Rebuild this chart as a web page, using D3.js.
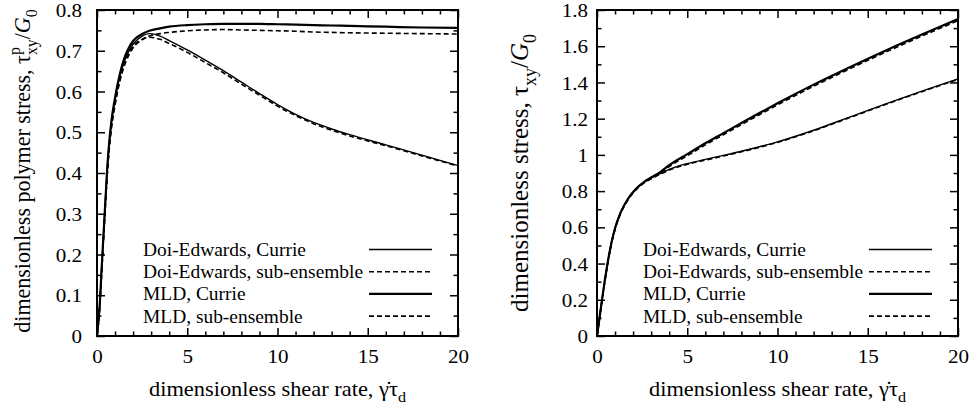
<!DOCTYPE html>
<html>
<head>
<meta charset="utf-8">
<script src="https://cdn.jsdelivr.net/npm/d3@7"></script>
<style>
  html, body { margin: 0; padding: 0; background: #fff; }
  svg { display: block; font-family: "Liberation Serif", "Times New Roman", serif; }
  svg text { font-family: "Liberation Serif", "Times New Roman", serif; }
</style>
</head>
<body>
<svg id="chart" width="971" height="409"></svg>
<script>
// ---- data: steady-shear polymer stress (left) and total stress (right) ----
const ratePolymer = [0, 0.15, 0.25, 0.35, 0.45, 0.55, 0.65, 0.8, 1.0, 1.25, 1.5, 1.75, 2, 2.5, 2.9, 3.5, 4, 5, 6, 7, 8, 9, 10, 11, 12, 13, 14, 16, 18, 20];
const polyDoiCurrie = [0, 0.075, 0.16, 0.24, 0.32, 0.40, 0.46, 0.525, 0.58, 0.635, 0.672, 0.698, 0.716, 0.736, 0.742, 0.736, 0.725, 0.702, 0.677, 0.651, 0.623, 0.595, 0.568, 0.544, 0.524, 0.508, 0.494, 0.469, 0.444, 0.418];
const polyDoiSub    = [0, 0.07, 0.15, 0.23, 0.31, 0.385, 0.445, 0.51, 0.567, 0.622, 0.661, 0.688, 0.707, 0.727, 0.733, 0.728, 0.718, 0.696, 0.671, 0.646, 0.618, 0.591, 0.564, 0.541, 0.521, 0.505, 0.491, 0.467, 0.442, 0.417];
const polyMldCurrie = [0, 0.075, 0.16, 0.24, 0.32, 0.40, 0.462, 0.528, 0.585, 0.64, 0.68, 0.706, 0.724, 0.741, 0.749, 0.755, 0.759, 0.763, 0.765, 0.766, 0.766, 0.766, 0.765, 0.764, 0.763, 0.762, 0.761, 0.759, 0.757, 0.756];
const polyMldSub    = [0, 0.07, 0.15, 0.23, 0.31, 0.385, 0.447, 0.513, 0.57, 0.627, 0.667, 0.693, 0.71, 0.728, 0.736, 0.742, 0.745, 0.749, 0.751, 0.752, 0.751, 0.75, 0.749, 0.748, 0.746, 0.745, 0.744, 0.743, 0.742, 0.741];

const rateTotal = [0, 0.2, 0.4, 0.6, 0.8, 1.0, 1.3, 1.7, 2.15, 2.6, 3.0, 3.5, 4, 5, 6, 7, 8, 9, 10, 12, 14, 16, 18, 20];
const totalDoiCurrie = [0, 0.145, 0.285, 0.41, 0.515, 0.595, 0.68, 0.755, 0.812, 0.85, 0.873, 0.897, 0.92, 0.952, 0.975, 0.997, 1.02, 1.045, 1.072, 1.136, 1.209, 1.282, 1.352, 1.42];
const totalDoiSub    = [0, 0.14, 0.28, 0.405, 0.51, 0.59, 0.675, 0.75, 0.807, 0.845, 0.868, 0.893, 0.916, 0.948, 0.971, 0.994, 1.017, 1.042, 1.069, 1.133, 1.206, 1.279, 1.349, 1.417];
const totalMldCurrie = [0, 0.145, 0.285, 0.41, 0.515, 0.595, 0.68, 0.755, 0.812, 0.85, 0.875, 0.905, 0.943, 1.004, 1.064, 1.12, 1.176, 1.231, 1.285, 1.388, 1.484, 1.577, 1.665, 1.75];
const totalMldSub    = [0, 0.14, 0.28, 0.405, 0.51, 0.59, 0.675, 0.75, 0.807, 0.845, 0.869, 0.898, 0.935, 0.995, 1.055, 1.111, 1.167, 1.222, 1.276, 1.379, 1.475, 1.568, 1.656, 1.741];

const seriesNames = ["Doi-Edwards, Currie", "Doi-Edwards, sub-ensemble", "MLD, Currie", "MLD, sub-ensemble"];

const xTicks = [0, 5, 10, 15, 20];
const xMinorTicks = [1, 2, 3, 4, 6, 7, 8, 9, 11, 12, 13, 14, 16, 17, 18, 19];
const yTicksPolymer = [0, 0.1, 0.2, 0.3, 0.4, 0.5, 0.6, 0.7, 0.8];
const yMinorPolymer = [0.05, 0.15, 0.25, 0.35, 0.45, 0.55, 0.65, 0.75];
const yTicksTotal = [0, 0.2, 0.4, 0.6, 0.8, 1, 1.2, 1.4, 1.6, 1.8];
const yMinorTotal = [0.1, 0.3, 0.5, 0.7, 0.9, 1.1, 1.3, 1.5, 1.7];

// ---- styling ----
const seriesStyle = [
  { dash: null,  width: 1.4 },
  { dash: "5,3", width: 1.6 },
  { dash: null,  width: 2.2 },
  { dash: "5,3", width: 1.6 }
];
const plotTop = 10, plotBottom = 336;
const tickFont = 19.5, tickSX = 1.08;
const legendFont = 18, legendSX = 1.08;
const xTitleFont = 20, xTitleSX = 1.12;
const serif = '"Liberation Serif", "Times New Roman", serif';

const svg = d3.select("#chart");

// text drawn with a horizontal stretch about its anchor point
function stretchedText(parent, x, y, sx, fontSize, anchor) {
  return parent.append("text")
    .attr("transform", `translate(${x},${y}) scale(${sx},1)`)
    .attr("font-size", fontSize)
    .attr("font-family", serif)
    .attr("text-anchor", anchor)
    .attr("fill", "#000");
}

// rich text: parts with optional sub/sup, italics and stacking offsets
function addParts(text, parts, fs) {
  let level = 0; // current baseline offset in px
  parts.forEach(p => {
    const target = p.sub ? 0.32 * fs : p.sup ? -0.42 * fs : 0;
    const ts = text.append("tspan").text(p.t);
    ts.attr("dy", target - level);
    level = target;
    if (p.sub || p.sup) ts.attr("font-size", 0.72 * fs);
    if (p.dx) ts.attr("dx", p.dx * fs);
    if (p.italic) ts.attr("font-style", "italic");
  });
}

const panels = [
  {
    left: 97, right: 458, yDomain: [0, 0.8], yTicks: yTicksPolymer, yMinor: yMinorPolymer,
    yLabelGap: 15, rate: ratePolymer,
    series: [polyDoiCurrie, polyDoiSub, polyMldCurrie, polyMldSub],
    yTitle: { x: 30, y: 171, fs: 22, sy: 1.05, parts: [
      { t: "dimensionless polymer stress, τ" },
      { t: "p", sup: true },
      { t: "xy", sub: true, dx: -0.36 },
      { t: "/" },
      { t: "G", italic: true },
      { t: "0", sub: true }
    ] }
  },
  {
    left: 597, right: 958, yDomain: [0, 1.8], yTicks: yTicksTotal, yMinor: yMinorTotal,
    yLabelGap: 9, rate: rateTotal,
    series: [totalDoiCurrie, totalDoiSub, totalMldCurrie, totalMldSub],
    yTitle: { x: 528, y: 173, fs: 25, sy: 1.0, parts: [
      { t: "dimensionless stress, τ" },
      { t: "xy", sub: true },
      { t: "/" },
      { t: "G", italic: true },
      { t: "0", sub: true }
    ] }
  }
];

panels.forEach(P => {
  const x = d3.scaleLinear().domain([0, 20]).range([P.left, P.right]);
  const y = d3.scaleLinear().domain(P.yDomain).range([plotBottom, plotTop]);
  const g = svg.append("g");

  // curves
  const line = d3.line()
    .x((d, i) => x(P.rate[i]))
    .y(d => y(d))
    .curve(d3.curveMonotoneX);
  P.series.forEach((s, k) => {
    g.append("path")
      .attr("d", line(s))
      .attr("fill", "none")
      .attr("stroke", "#000")
      .attr("stroke-width", seriesStyle[k].width)
      .attr("stroke-dasharray", seriesStyle[k].dash)
      .attr("stroke-linejoin", "round");
  });

  // inward ticks on all four sides
  const tickStyle = sel => {
    sel.attr("font-family", serif).attr("font-size", tickFont);
    sel.select(".domain").remove();
    sel.selectAll("line").attr("stroke", "#000").attr("stroke-width", 1.5);
  };
  const bottomMajor = g.append("g").attr("transform", `translate(0,${plotBottom})`)
    .call(d3.axisBottom(x).tickValues(xTicks).tickSize(-8).tickFormat(d3.format("d")));
  tickStyle(bottomMajor);
  bottomMajor.selectAll("text")
    .attr("y", 27).attr("dy", null).attr("fill", "#000")
    .attr("transform", `scale(${tickSX},1)`);
  g.append("g").attr("transform", `translate(0,${plotBottom})`)
    .call(d3.axisBottom(x).tickValues(xMinorTicks).tickSize(-4.5).tickFormat(""))
    .call(tickStyle);
  g.append("g").attr("transform", `translate(0,${plotTop})`)
    .call(d3.axisTop(x).tickValues(xTicks).tickSize(-8).tickFormat(""))
    .call(tickStyle);
  g.append("g").attr("transform", `translate(0,${plotTop})`)
    .call(d3.axisTop(x).tickValues(xMinorTicks).tickSize(-4.5).tickFormat(""))
    .call(tickStyle);

  const leftMajor = g.append("g").attr("transform", `translate(${P.left},0)`)
    .call(d3.axisLeft(y).tickValues(P.yTicks).tickSize(-8).tickFormat(d => String(d)));
  tickStyle(leftMajor);
  leftMajor.selectAll("text")
    .attr("x", -P.yLabelGap / tickSX).attr("dy", "0.34em").attr("fill", "#000")
    .attr("transform", `scale(${tickSX},1)`);
  g.append("g").attr("transform", `translate(${P.left},0)`)
    .call(d3.axisLeft(y).tickValues(P.yMinor).tickSize(-4.5).tickFormat(""))
    .call(tickStyle);
  g.append("g").attr("transform", `translate(${P.right},0)`)
    .call(d3.axisRight(y).tickValues(P.yTicks).tickSize(-8).tickFormat(""))
    .call(tickStyle);
  g.append("g").attr("transform", `translate(${P.right},0)`)
    .call(d3.axisRight(y).tickValues(P.yMinor).tickSize(-4.5).tickFormat(""))
    .call(tickStyle);

  // frame
  g.append("rect")
    .attr("x", P.left).attr("y", plotTop)
    .attr("width", P.right - P.left).attr("height", plotBottom - plotTop)
    .attr("fill", "none").attr("stroke", "#000").attr("stroke-width", 2);

  // legend
  const legTop = 249.5, legStep = 22.2;
  seriesNames.forEach((name, k) => {
    const ly = legTop + k * legStep;
    stretchedText(g, P.left + 46, ly + 6.5, legendSX, legendFont, "start").text(name);
    g.append("line")
      .attr("x1", P.left + 272).attr("x2", P.left + 335)
      .attr("y1", ly).attr("y2", ly)
      .attr("stroke", "#000")
      .attr("stroke-width", seriesStyle[k].width)
      .attr("stroke-dasharray", seriesStyle[k].dash);
  });

  // x-axis title
  const xt = stretchedText(g, (P.left + P.right) / 2, 396, xTitleSX, xTitleFont, "middle");
  addParts(xt, [
    { t: "dimensionless shear rate, γ\u0307τ" },
    { t: "d", sub: true }
  ], xTitleFont);

  // y-axis title (rotated)
  const T = P.yTitle;
  const yt = g.append("text")
    .attr("transform", `translate(${T.x},${T.y}) rotate(-90) scale(1,${T.sy})`)
    .attr("font-size", T.fs)
    .attr("font-family", serif)
    .attr("text-anchor", "middle")
    .attr("fill", "#000");
  addParts(yt, T.parts, T.fs);
});
</script>
</body>
</html>
